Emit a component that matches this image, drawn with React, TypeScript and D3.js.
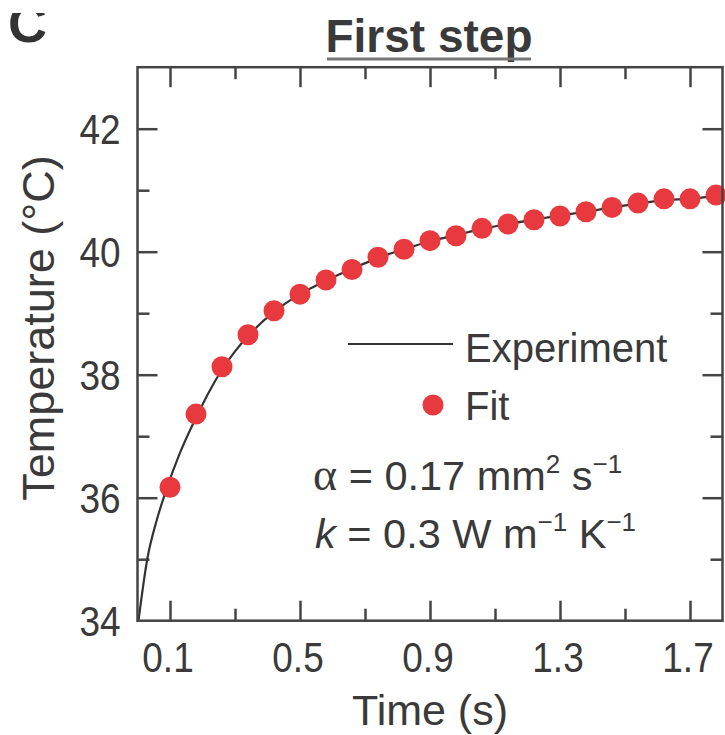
import React, { useEffect, useRef } from 'react';
import * as d3 from 'd3';

// fitted points (red dots)
const fitTime = [0.1, 0.18, 0.26, 0.34, 0.42, 0.5, 0.58, 0.66, 0.74, 0.82, 0.9, 0.98, 1.06, 1.14, 1.22, 1.3, 1.38, 1.46, 1.54, 1.62, 1.7, 1.78];
const fitTemp = [36.17, 37.36, 38.13, 38.65, 39.04, 39.31, 39.54, 39.71, 39.91, 40.04, 40.18, 40.26, 40.38, 40.45, 40.52, 40.58, 40.65, 40.72, 40.79, 40.86, 40.86, 40.92];

// measured curve (black line)
const expTime = [0.003, 0.03, 0.06, 0.09, 0.13, 0.18, 0.22, 0.26, 0.3, 0.34, 0.42, 0.5, 0.58, 0.66, 0.74, 0.82, 0.9, 0.98, 1.06, 1.14, 1.22, 1.3, 1.38, 1.46, 1.54, 1.62, 1.7, 1.8];
const expTemp = [34.0, 35.0, 35.65, 36.15, 36.72, 37.3, 37.72, 38.08, 38.38, 38.63, 39.02, 39.31, 39.53, 39.72, 39.9, 40.04, 40.17, 40.27, 40.37, 40.45, 40.52, 40.59, 40.65, 40.72, 40.78, 40.84, 40.86, 40.92];

const xMajorTicks = [0.1, 0.5, 0.9, 1.3, 1.7];
const xMinorTicks = [0.3, 0.7, 1.1, 1.5];
const yMajorTicks = [34, 36, 38, 40, 42];
const yMinorTicks = [35, 37, 39, 41];

const FONT = "'Liberation Sans', Arial, Helvetica, sans-serif";
const INK = '#3a3a3a';
const RED = '#e8393e';

const App = () => {
  const chartRef = useRef<SVGSVGElement>(null);

  useEffect(() => {
    drawChart();
  }, []);

  const drawChart = () => {
    const margin = { top: 67.2, right: 2.5, bottom: 114.3, left: 137.5 };
    const width = 725 - margin.left - margin.right;
    const height = 735 - margin.top - margin.bottom;

    const root = d3.select(chartRef.current);
    root.selectAll('*').remove();

    const svg = root
      .append('g')
      .attr('transform', `translate(${margin.left},${margin.top})`);

    const x = d3.scaleLinear().domain([0, 1.8]).range([0, width]);
    const y = d3.scaleLinear().domain([34, 43]).range([height, 0]);

    svg
      .append('clipPath')
      .attr('id', 'plot-clip')
      .append('rect')
      .attr('width', width)
      .attr('height', height);

    // ticks on all four sides, pointing inward
    const tickAxis = (axis: any, values: number[], size: number, transform: string) => {
      svg
        .append('g')
        .attr('transform', transform)
        .call(axis.tickValues(values).tickSize(-size).tickSizeOuter(0).tickFormat(() => ''))
        .call((g: any) => g.select('.domain').remove())
        .call((g: any) => g.selectAll('line').attr('stroke', '#444').attr('stroke-width', 2.5));
    };
    tickAxis(d3.axisBottom(x), xMajorTicks, 20, `translate(0,${height})`);
    tickAxis(d3.axisBottom(x), xMinorTicks, 12, `translate(0,${height})`);
    tickAxis(d3.axisTop(x), xMajorTicks, 20, 'translate(0,0)');
    tickAxis(d3.axisTop(x), xMinorTicks, 12, 'translate(0,0)');
    tickAxis(d3.axisLeft(y), yMajorTicks.slice(1), 20, 'translate(0,0)');
    tickAxis(d3.axisLeft(y), yMinorTicks, 12, 'translate(0,0)');
    tickAxis(d3.axisRight(y), yMajorTicks.slice(1), 20, `translate(${width},0)`);
    tickAxis(d3.axisRight(y), yMinorTicks, 12, `translate(${width},0)`);

    // tick labels (slightly condensed like the original)
    svg
      .selectAll('.xlab')
      .data(xMajorTicks)
      .enter()
      .append('text')
      .attr('transform', d => `translate(${x(d) - 2},${height + 51}) scale(0.88,1)`)
      .attr('text-anchor', 'middle')
      .attr('font-family', FONT)
      .attr('font-size', 42)
      .attr('fill', INK)
      .text(d => d.toFixed(1));

    svg
      .selectAll('.ylab')
      .data(yMajorTicks)
      .enter()
      .append('text')
      .attr('transform', d => `translate(-17,${y(d) + 15}) scale(0.88,1)`)
      .attr('text-anchor', 'end')
      .attr('font-family', FONT)
      .attr('font-size', 42)
      .attr('fill', INK)
      .text(d => d);

    // experiment line
    const line = d3
      .line<number>()
      .x((d, i) => x(expTime[i]))
      .y(d => y(d))
      .curve(d3.curveMonotoneX);

    svg
      .append('path')
      .datum(expTemp)
      .attr('clip-path', 'url(#plot-clip)')
      .attr('fill', 'none')
      .attr('stroke', '#333')
      .attr('stroke-width', 2.2)
      .attr('d', line);

    // fit dots
    svg
      .selectAll('.dot')
      .data(fitTemp)
      .enter()
      .append('circle')
      .attr('cx', (d, i) => x(fitTime[i]))
      .attr('cy', d => y(d))
      .attr('r', 10.5)
      .attr('fill', RED);

    // frame
    svg
      .append('rect')
      .attr('width', width)
      .attr('height', height)
      .attr('fill', 'none')
      .attr('stroke', '#444')
      .attr('stroke-width', 2.5);

    // axis titles
    root
      .append('text')
      .attr('x', 430)
      .attr('y', 725)
      .attr('text-anchor', 'middle')
      .attr('font-family', FONT)
      .attr('font-size', 43)
      .attr('fill', INK)
      .text('Time (s)');

    root
      .append('text')
      .attr('transform', 'translate(54,328) rotate(-90)')
      .attr('text-anchor', 'middle')
      .attr('font-family', FONT)
      .attr('font-size', 45)
      .attr('fill', INK)
      .text('Temperature (°C)');

    // title
    root
      .append('text')
      .attr('x', 429)
      .attr('y', 52)
      .attr('text-anchor', 'middle')
      .attr('font-family', FONT)
      .attr('font-weight', 'bold')
      .attr('font-size', 46)
      .attr('fill', INK)
      .text('First step');
    root
      .append('line')
      .attr('x1', 327)
      .attr('x2', 531)
      .attr('y1', 59)
      .attr('y2', 59)
      .attr('stroke', '#777')
      .attr('stroke-width', 3);

    // panel letter, top cut off
    root
      .append('clipPath')
      .attr('id', 'letter-clip')
      .append('rect')
      .attr('x', 0)
      .attr('y', 13)
      .attr('width', 80)
      .attr('height', 60);
    root
      .append('text')
      .attr('clip-path', 'url(#letter-clip)')
      .attr('x', 8)
      .attr('y', 42)
      .attr('font-family', FONT)
      .attr('font-weight', 'bold')
      .attr('font-size', 54)
      .attr('fill', '#333')
      .text('C');

    // legend
    root
      .append('line')
      .attr('x1', 348)
      .attr('x2', 453)
      .attr('y1', 344)
      .attr('y2', 344)
      .attr('stroke', '#333')
      .attr('stroke-width', 2.2);
    root
      .append('text')
      .attr('x', 465)
      .attr('y', 362)
      .attr('font-family', FONT)
      .attr('font-size', 40)
      .attr('fill', INK)
      .text('Experiment');
    root
      .append('circle')
      .attr('cx', 433)
      .attr('cy', 405)
      .attr('r', 10.5)
      .attr('fill', RED);
    root
      .append('text')
      .attr('x', 465)
      .attr('y', 420)
      .attr('font-family', FONT)
      .attr('font-size', 40)
      .attr('fill', INK)
      .text('Fit');

    // parameter annotation
    const note = (xPos: number, yPos: number, parts: any[]) => {
      const t = root
        .append('text')
        .attr('x', xPos)
        .attr('y', yPos)
        .attr('font-family', FONT)
        .attr('font-size', 41.5)
        .attr('fill', INK)
        .style('white-space', 'pre');
      parts.forEach(p => {
        const s = t.append('tspan').text(p.text);
        if (p.sup) s.attr('font-size', 26).attr('dy', -17);
        if (p.down) s.attr('dy', 17);
        if (p.italic) s.attr('font-style', 'italic');
        if (p.serif) s.attr('font-family', "'Liberation Serif', 'Times New Roman', serif").attr('font-size', 46);
      });
    };
    note(313, 490, [
      { text: 'α', serif: true },
      { text: ' = 0.17 mm' },
      { text: '2', sup: true },
      { text: ' s', down: true },
      { text: '\u22121', sup: true }
    ]);
    note(315, 548, [
      { text: 'k', italic: true },
      { text: ' = 0.3 W m' },
      { text: '\u22121', sup: true },
      { text: ' K', down: true },
      { text: '\u22121', sup: true }
    ]);
  };

  return (
    <svg
      ref={chartRef}
      width={725}
      height={735}
      style={{ position: 'absolute', left: 0, top: 0, background: '#fff' }}
    ></svg>
  );
};

export default App;
